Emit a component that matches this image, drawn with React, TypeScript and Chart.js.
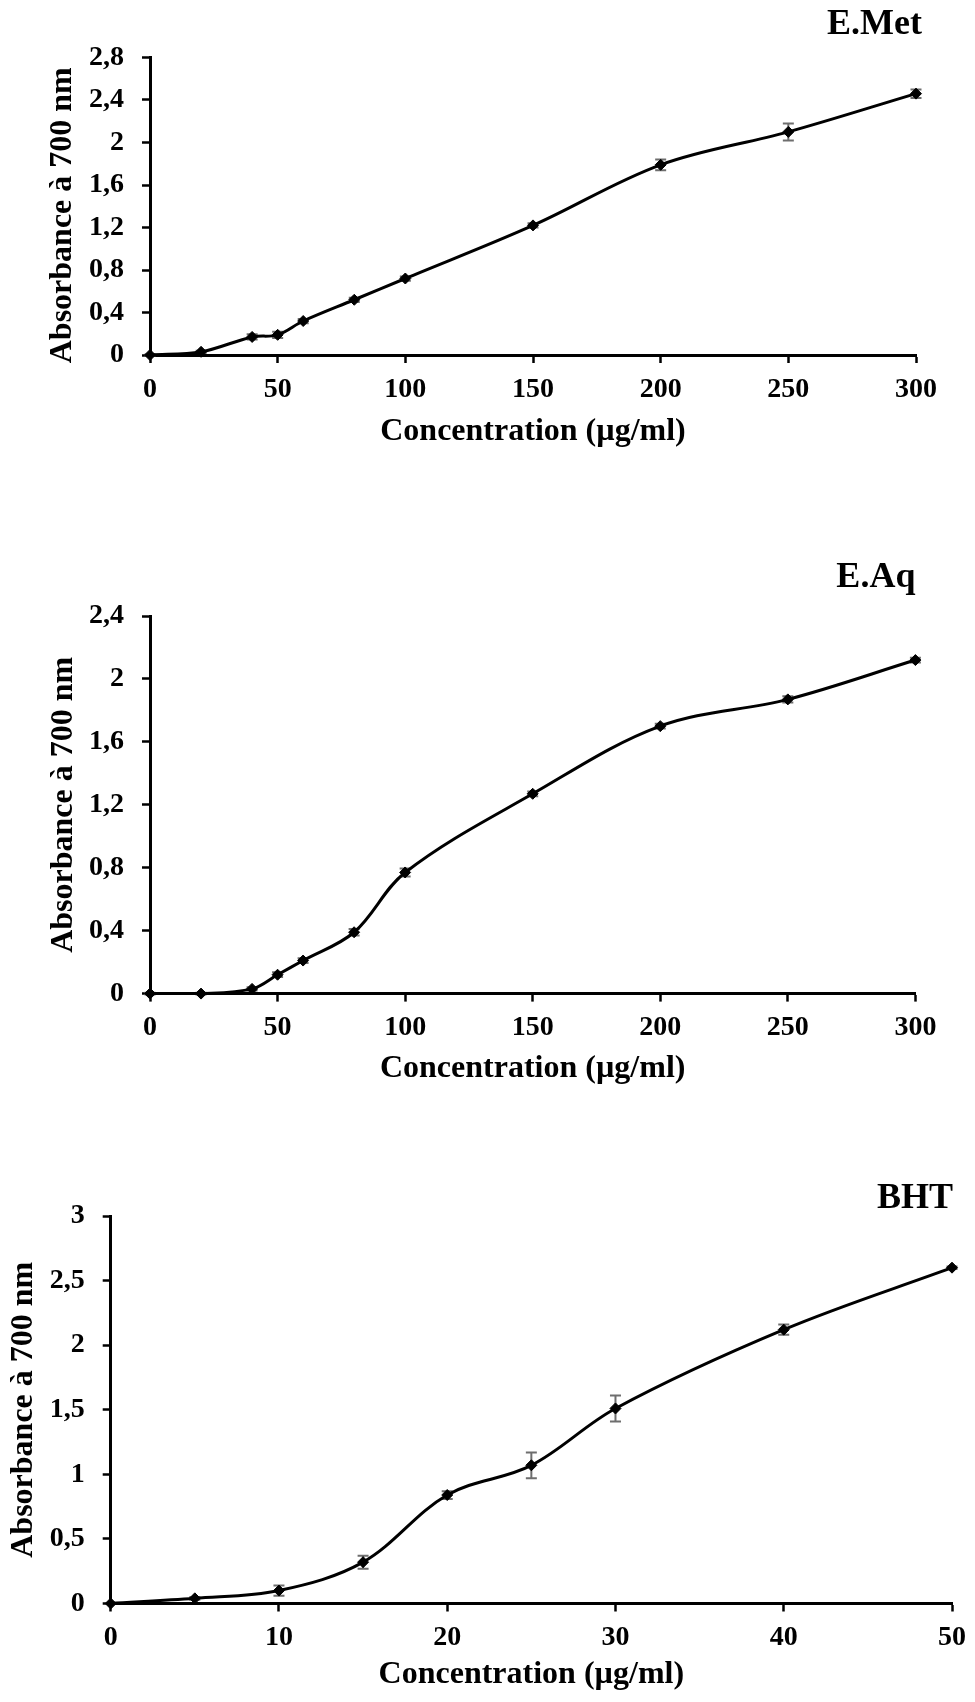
import React, { useEffect, useRef } from 'react';
import { Chart, registerables } from 'chart.js';

Chart.register(...registerables);

// ---- Data ----
const emetConc = [0, 20, 40, 50, 60, 80, 100, 150, 200, 250, 300];
const emetAbs = [0, 0.03, 0.17, 0.19, 0.32, 0.52, 0.72, 1.22, 1.79, 2.1, 2.46];
const emetErr = [0.005, 0.01, 0.025, 0.03, 0.02, 0.02, 0.02, 0.02, 0.05, 0.08, 0.04];

const eaqConc = [0, 20, 40, 50, 60, 80, 100, 150, 200, 250, 300];
const eaqAbs = [0, 0, 0.03, 0.12, 0.21, 0.39, 0.77, 1.27, 1.7, 1.87, 2.12];
const eaqErr = [0.005, 0.005, 0.01, 0.015, 0.015, 0.02, 0.025, 0.015, 0.015, 0.02, 0.015];

const bhtConc = [0, 5, 10, 15, 20, 25, 30, 40, 50];
const bhtAbs = [0, 0.04, 0.1, 0.32, 0.84, 1.07, 1.51, 2.12, 2.6];
const bhtErr = [0, 0.01, 0.04, 0.05, 0.03, 0.1, 0.1, 0.04, 0.01];

const panelTitles = ['E.Met', 'E.Aq', 'BHT'];
const xAxisTitle = 'Concentration (µg/ml)';
const yAxisTitle = 'Absorbance à 700 nm';

const FONT = '"Liberation Serif", "Times New Roman", Times, serif';

type PanelCfg = {
  title: string;
  xs: number[];
  ys: number[];
  err: number[];
  xMax: number;
  xStep: number;
  yMax: number;
  yStep: number;
  top: number;
  height: number;
  padTop: number;
  padRight: number;
  yWidth: number;
  xHeight: number;
  yTitleX: number;
  yTitleShift: number;
  xTitlePad: number;
  xTickPad: number;
  yTickPad: number;
  titleDx: number;
  titleDy: number;
};

const panels: PanelCfg[] = [
  {
    title: panelTitles[0], xs: emetConc, ys: emetAbs, err: emetErr,
    xMax: 300, xStep: 50, yMax: 2.8, yStep: 0.4,
    top: 0, height: 480, padTop: 57.5, padRight: 59, yWidth: 150, xHeight: 125,
    yTitleX: 63, yTitleShift: 9, xTitlePad: 29.3, xTickPad: 10, yTickPad: 18, titleDx: 6, titleDy: 32.5,
  },
  {
    title: panelTitles[1], xs: eaqConc, ys: eaqAbs, err: eaqErr,
    xMax: 300, xStep: 50, yMax: 2.4, yStep: 0.4,
    top: 540, height: 560, padTop: 76, padRight: 59.6, yWidth: 150, xHeight: 106.4,
    yTitleX: 64, yTitleShift: 0, xTitlePad: 12.2, xTickPad: 9, yTickPad: 18, titleDx: 0, titleDy: 38.4,
  },
  {
    title: panelTitles[2], xs: bhtConc, ys: bhtAbs, err: bhtErr,
    xMax: 50, xStep: 10, yMax: 3, yStep: 0.5,
    top: 1160, height: 542, padTop: 56, padRight: 20.4, yWidth: 110.7, xHeight: 98.5,
    yTitleX: 23.5, yTitleShift: 0, xTitlePad: 7.8, xTickPad: 9, yTickPad: 18, titleDx: 1, titleDy: 17.4,
  },
];

function fmt(v: number): string {
  const r = Math.round(v * 10) / 10;
  return String(r).replace('.', ',');
}

function Panel({ p }: { p: PanelCfg }) {
  const ref = useRef<HTMLCanvasElement>(null);

  useEffect(() => {
    const extras = {
      id: 'panelExtras',
      beforeDatasetsDraw(chart: any) {
        const { ctx } = chart;
        const xs = chart.scales.x;
        const ys = chart.scales.y;
        ctx.save();
        ctx.strokeStyle = '#6e6e6e';
        ctx.lineWidth = 2;
        p.xs.forEach((xv, i) => {
          const e = p.err[i];
          if (!e) return;
          const px = xs.getPixelForValue(xv);
          const pt = ys.getPixelForValue(p.ys[i] + e);
          const pb = ys.getPixelForValue(p.ys[i] - e);
          ctx.beginPath();
          ctx.moveTo(px, pt);
          ctx.lineTo(px, pb);
          ctx.moveTo(px - 5.5, pt);
          ctx.lineTo(px + 5.5, pt);
          ctx.moveTo(px - 5.5, pb);
          ctx.lineTo(px + 5.5, pb);
          ctx.stroke();
        });
        ctx.restore();
      },
      afterDraw(chart: any) {
        const { ctx, chartArea } = chart;
        ctx.save();
        ctx.fillStyle = '#000';
        ctx.font = `bold 36px ${FONT}`;
        ctx.textAlign = 'right';
        ctx.textBaseline = 'middle';
        ctx.fillText(p.title, chartArea.right + p.titleDx, chartArea.top - p.titleDy);
        // y-axis title, rotated
        ctx.font = `bold 32px ${FONT}`;
        ctx.textAlign = 'center';
        ctx.textBaseline = 'middle';
        ctx.translate(p.yTitleX, (chartArea.top + chartArea.bottom) / 2 + p.yTitleShift);
        ctx.rotate(-Math.PI / 2);
        ctx.fillText(yAxisTitle, 0, 0);
        ctx.restore();
      },
    };

    const chart = new Chart(ref.current as HTMLCanvasElement, {
      type: 'line',
      data: {
        datasets: [
          {
            data: p.xs.map((x, i) => ({ x, y: p.ys[i] })),
            borderColor: '#000',
            borderWidth: 3,
            backgroundColor: '#000',
            pointStyle: 'rectRot',
            pointRadius: 5.5,
            pointBorderWidth: 1,
            pointBackgroundColor: '#000',
            pointBorderColor: '#000',
            tension: 0.35,
            fill: false,
            clip: false as any,
          },
        ],
      },
      options: {
        animation: false,
        responsive: false,
        devicePixelRatio: 1,
        layout: { padding: { left: 0, right: p.padRight, top: p.padTop, bottom: 0 } },
        plugins: { legend: { display: false }, tooltip: { enabled: false }, title: { display: false } },
        scales: {
          x: {
            type: 'linear',
            min: 0,
            max: p.xMax,
            afterFit: (s: any) => { s.height = p.xHeight; },
            ticks: {
              stepSize: p.xStep,
              padding: p.xTickPad,
              color: '#000',
              font: { family: FONT, size: 28, weight: 'bold' },
              maxRotation: 0,
              autoSkip: false,
            },
            grid: { drawOnChartArea: false, drawTicks: true, tickLength: 8, tickColor: '#000', tickWidth: 2.5, color: '#000' },
            border: { display: true, color: '#000', width: 3 },
            title: {
              display: true,
              text: xAxisTitle,
              color: '#000',
              font: { family: FONT, size: 32, weight: 'bold' },
              padding: { top: 0, bottom: p.xTitlePad },
            },
          },
          y: {
            type: 'linear',
            min: 0,
            max: p.yMax,
            afterFit: (s: any) => { s.width = p.yWidth; },
            ticks: {
              stepSize: p.yStep,
              padding: p.yTickPad,
              color: '#000',
              font: { family: FONT, size: 28, weight: 'bold' },
              callback: (v: any) => fmt(Number(v)),
            },
            grid: { drawOnChartArea: false, drawTicks: true, tickLength: 8, tickColor: '#000', tickWidth: 2.5, color: '#000' },
            border: { display: true, color: '#000', width: 3 },
            title: { display: false },
          },
        },
      },
      plugins: [extras],
    } as any);

    return () => chart.destroy();
  }, [p]);

  return (
    <canvas
      ref={ref}
      width={975}
      height={p.height}
      style={{ position: 'absolute', left: 0, top: p.top, width: 975, height: p.height }}
    />
  );
}

export default function App() {
  return (
    <div style={{ position: 'absolute', left: 0, top: 0, width: 975, height: 1702, background: '#fff', overflow: 'hidden' }}>
      {panels.map((p, i) => (
        <Panel key={i} p={p} />
      ))}
    </div>
  );
}
